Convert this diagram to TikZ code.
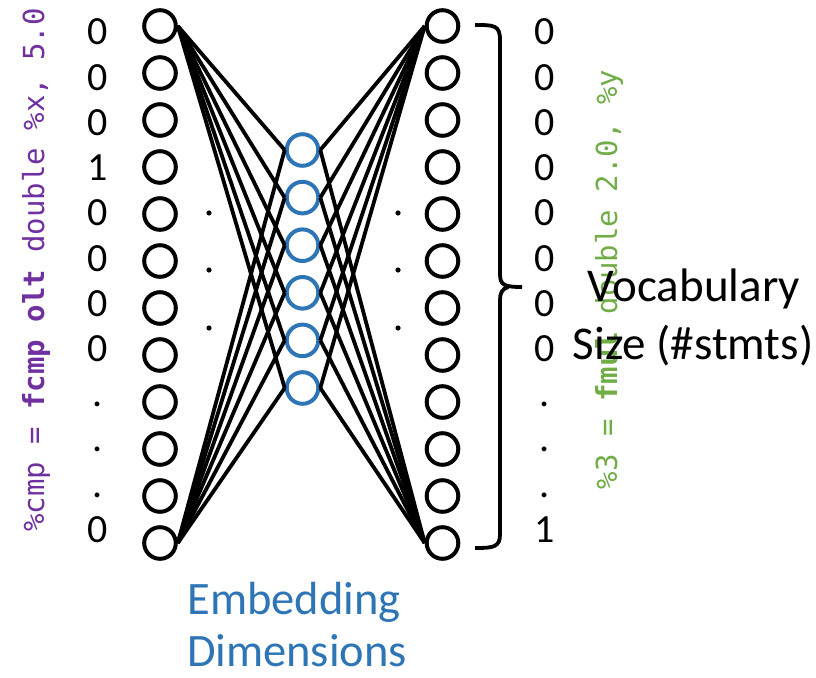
\documentclass[tikz,border=0pt]{standalone}
\usepackage{fontspec}
\setmainfont{Carlito}
\newfontfamily\codefont{DejaVu Sans Mono}
\definecolor{embblue}{RGB}{46,117,182}
\definecolor{cmppurple}{RGB}{112,48,160}
\definecolor{mulgreen}{RGB}{112,173,71}
\begin{document}
\begin{tikzpicture}[x=1pt,y=-1pt,
  unit/.style={circle, draw, line width=4pt, minimum size=31.6pt, inner sep=0pt},
  hid/.style={unit, draw=embblue},
  wire/.style={line width=3.8pt},
  digit/.style={anchor=base, font=\fontsize{40}{48}\selectfont, inner sep=0pt},
  bigtext/.style={anchor=base, inner sep=0pt, font=\fontsize{47}{57}\selectfont},
  code/.style={rotate=90, anchor=base, inner sep=0pt, font=\codefont\fontsize{29}{29}\selectfont},
  bracepath/.style={line width=3.8pt}]
\useasboundingbox (0,0) rectangle (816,677);

% input and output layers
\foreach \i in {1,...,12} {
  \node[unit] (l\i) at (160,{26+47*(\i-1)}) {};
  \node[unit] (r\i) at (442.5,{26+47*(\i-1)}) {};
}
% hidden layer
\foreach \i in {1,...,6} {
  \node[hid] (b\i) at (302.5,{150+47.6*(\i-1)}) {};
}
% connections
\foreach \i in {1,...,6} {
  \draw[wire] (l1.east) -- (b\i.west);
  \draw[wire] (l12.east) -- (b\i.west);
  \draw[wire] (r1.west) -- (b\i.east);
  \draw[wire] (r12.west) -- (b\i.east);
}
% digits
\foreach \d [count=\i] in {0,0,0,1,0,0,0,0,{.},{.},{.},0} {
  \node[digit] (dl\i) at (98,{45+45.2*(\i-1)}) {\d};
}
\foreach \d [count=\i] in {0,0,0,0,0,0,0,0,{.},{.},{.},1} {
  \node[digit] (dr\i) at (545,{45+45.2*(\i-1)}) {\d};
}
% ellipsis dots between layers
\foreach \y in {213,270,328} {
  \fill (209,\y) circle (2.6pt);
  \fill (398,\y) circle (2.6pt);
}
% brace
\draw[bracepath] (475,25) .. controls (494,25) and (500,25) .. (500,40) -- (500,274)
  .. controls (500,285) and (504,287) .. (522,287);
\draw[bracepath] (508,287) .. controls (502,289) and (500,293) .. (500,300) -- (500,534)
  .. controls (500,547) and (494,548) .. (475,548);

% code texts
\node[code, text=cmppurple] (code1) at (44,270) {\%cmp = \textbf{fcmp olt} double \%x, 5.0};
\node[code, text=mulgreen] (code2) at (617,279.5) {\%3 = \textbf{fmul} double 2.0, \%y};

% labels
\node[bigtext] (voc) at (694,301) {Vocabulary};
\node[bigtext] (size) at (693,359) {Size (\#stmts)};
\node[bigtext, text=embblue, font=\fontsize{46.5}{55}\selectfont] (emb1) at (294,614) {Embedding};
\node[bigtext, text=embblue, font=\fontsize{46.5}{55}\selectfont] (emb2) at (297,666) {Dimensions};
\end{tikzpicture}
\end{document}
